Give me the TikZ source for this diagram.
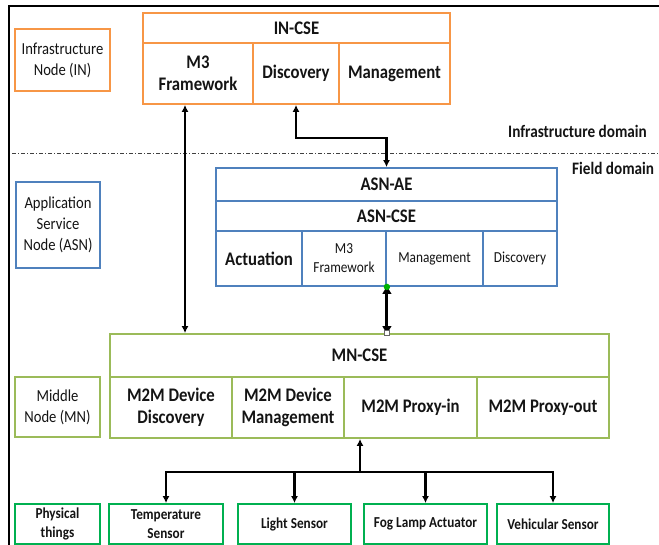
\documentclass[tikz,border=0pt]{standalone}
\usepackage{fontspec}
\setmainfont{Carlito}[FakeStretch=0.87]
\usetikzlibrary{arrows.meta,calc}
\definecolor{inorange}{RGB}{247,150,70}
\definecolor{asnblue}{RGB}{79,129,189}
\definecolor{mngreen}{RGB}{155,187,89}
\definecolor{phgreen}{RGB}{0,176,80}
\definecolor{txt}{RGB}{20,20,20}
\tikzset{
  cell/.style={draw, line width=1.8pt, inner sep=0pt, align=center, text=txt, fill=white},
  inbox/.style={cell, draw=inorange},
  asnbox/.style={cell, draw=asnblue},
  mnbox/.style={cell, draw=mngreen},
  phbox/.style={cell, draw=phgreen},
  bigb/.style={font=\fontsize{19.2}{22}\selectfont\bfseries},
  reg/.style={font=\fontsize{16.8}{21}\selectfont},
  smallr/.style={font=\fontsize{15.3}{19}\selectfont},
  phf/.style={font=\fontsize{15.2}{19}\selectfont\bfseries},
  dom/.style={font=\fontsize{17.5}{20}\selectfont\bfseries, text=txt, inner sep=0pt, anchor=west},
  conn/.style={line width=2.4pt, {Latex[length=7pt,width=7pt]}-{Latex[length=7pt,width=7pt]}},
  thickconn/.style={line width=3pt, {Latex[length=9pt,width=10pt]}-{Latex[length=9pt,width=10pt]}},
  oneway/.style={line width=2.4pt, -{Latex[length=7pt,width=7pt]}}
}
\begin{document}
\begin{tikzpicture}[x=1pt,y=-1pt]
\useasboundingbox (0,0) rectangle (659,545);
% frame
\draw[line width=2.2pt] (9,546) -- (9,6) -- (660,6);
% domain separator
\draw[line width=0.8pt, black!75, dash pattern=on 4pt off 2pt on 1pt off 2pt] (12,153) -- (660,153);
\node[dom] (infdom) at (508,131) {Infrastructure domain};
\node[dom] (fielddom) at (572,168) {Field domain};

% side labels
\node[inbox, reg, minimum width=95, minimum height=62] (inlbl) at (62.5,60) {Infrastructure\\Node (IN)};
\node[asnbox, reg, minimum width=84, minimum height=86] (asnlbl) at (58,225) {Application\\Service\\Node (ASN)};
\node[mnbox, reg, minimum width=85, minimum height=60] (mnlbl) at (57.5,407) {Middle\\Node (MN)};
\node[phbox, phf, minimum width=85, minimum height=40] (phlbl) at (57.5,524) {Physical\\things};

% IN-CSE
\node[inbox, bigb, minimum width=307, minimum height=30] (inhead) at (296.5,28) {IN-CSE};
\node[inbox, bigb, minimum width=110, minimum height=61] (inm3) at (198,73.5) {M3\\Framework};
\node[inbox, bigb, minimum width=86, minimum height=61] (indisc) at (296,73.5) {Discovery};
\node[inbox, bigb, minimum width=111, minimum height=61] (inmgmt) at (394.5,73.5) {Management};

% ASN
\node[asnbox, bigb, minimum width=341, minimum height=33] (asnae) at (386.5,184.5) {ASN-AE};
\node[asnbox, bigb, minimum width=341, minimum height=30] (asncse) at (386.5,216) {ASN-CSE};
\node[asnbox, bigb, minimum width=86, minimum height=55] (asnact) at (259,258.5) {Actuation};
\node[asnbox, smallr, minimum width=84, minimum height=55] (asnm3) at (344,258.5) {M3\\Framework};
\node[asnbox, smallr, minimum width=97, minimum height=55] (asnmgmt) at (434.5,258.5) {Management};
\node[asnbox, smallr, minimum width=74, minimum height=55] (asndisc) at (520,258.5) {Discovery};

% MN-CSE
\node[mnbox, bigb, minimum width=499, minimum height=43] (mnhead) at (359.5,355.5) {MN-CSE};
\node[mnbox, bigb, minimum width=122, minimum height=61] (mndisc) at (171,407.5) {M2M Device\\Discovery};
\node[mnbox, bigb, minimum width=112, minimum height=61] (mnmgmt) at (288,407.5) {M2M Device\\Management};
\node[mnbox, bigb, minimum width=133, minimum height=61] (mnpin) at (410.5,407.5) {M2M Proxy-in};
\node[mnbox, bigb, minimum width=132, minimum height=61] (mnpout) at (543,407.5) {M2M Proxy-out};

% physical things
\node[phbox, phf, minimum width=114, minimum height=40] (ptemp) at (166,524) {Temperature\\Sensor};
\node[phbox, phf, minimum width=113, minimum height=40] (plight) at (294.5,524) {Light Sensor};
\node[phbox, phf, minimum width=123, minimum height=40] (pfog) at (425.5,524) {Fog Lamp Actuator};
\node[phbox, phf, minimum width=112, minimum height=40] (pveh) at (553,524) {Vehicular Sensor};

% connectors
\draw[conn] (185,0 |- inm3.south) -- (185,0 |- mnhead.north);
\draw[conn] (indisc.south) -- ++(0,33) -| (asnae.north);
\draw[thickconn] ([yshift=2pt]asnm3.south east) -- ([yshift=-2pt]asnm3.south east |- mnhead.north);
\fill[green!70!black] (asnm3.south east) circle (3.2pt);
\node[draw=black!60, fill=white, line width=0.5pt, minimum size=5pt, inner sep=0pt] (handle) at (asnm3.south east |- mnhead.north) {};

\coordinate (bus) at (360,472);
\draw[oneway] (bus) -- (bus |- mnpin.south);
\draw[oneway] (bus) -| (ptemp.north);
\draw[oneway] (bus) -| (plight.north);
\draw[oneway] (bus) -| (pfog.north);
\draw[oneway] (bus) -| (pveh.north);
\end{tikzpicture}
\end{document}
